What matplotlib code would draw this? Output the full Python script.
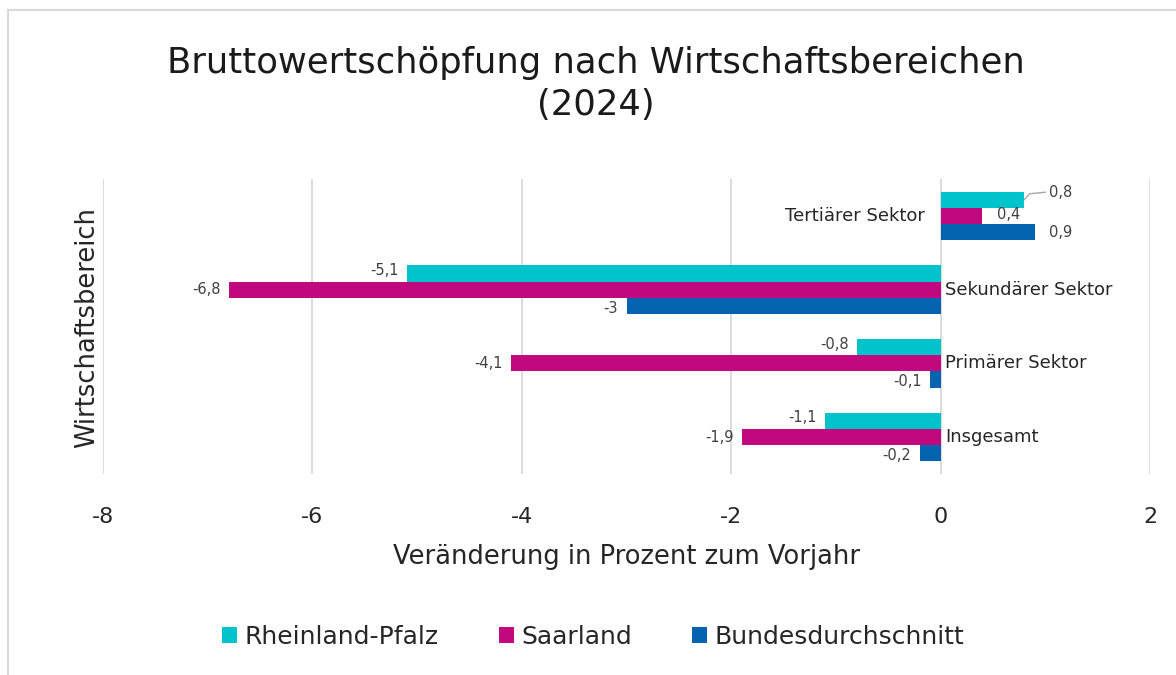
import matplotlib
matplotlib.use("Agg")
import matplotlib.pyplot as plt
from matplotlib.lines import Line2D
from matplotlib.patches import Patch
import numpy as np

categories = ["Insgesamt", "Primärer Sektor", "Sekundärer Sektor", "Tertiärer Sektor"]
series_names = ["Rheinland-Pfalz", "Saarland", "Bundesdurchschnitt"]
rlp = [-1.1, -0.8, -5.1, 0.8]
saar = [-1.9, -4.1, -6.8, 0.4]
bund = [-0.2, -0.1, -3.0, 0.9]
xticks = [-8, -6, -4, -2, 0, 2]

colors = ["#00C3CC", "#C1087F", "#0563B0"]
plt.rcParams['font.family'] = ['DejaVu Sans']

fig = plt.figure(figsize=(11.76, 6.75), dpi=100)
W, H = 1176, 675
ax = fig.add_axes([103 / W, 1 - 474 / H, (1150 - 103) / W, (474 - 179) / H])

y = np.arange(len(categories))
bh = 0.22
offsets = [bh, 0, -bh]
for vals, off, col in zip([rlp, saar, bund], offsets, colors):
    ax.barh(y + off, vals, height=bh, color=col, zorder=3)

ax.set_xlim(-8, 2)
ax.set_ylim(-0.5, 3.5)
ax.set_xticks(xticks)
ax.set_xticklabels([str(t) for t in xticks], fontsize=16, color="#262626")
ax.tick_params(axis='x', length=0, pad=24)
ax.set_yticks([])
for s in ax.spines.values():
    s.set_visible(False)
ax.grid(axis='x', color="#D9D9D9", linewidth=1.3, zorder=0)

def fmt(v):
    return ("%g" % v).replace(".", ",")

lab_kw = dict(fontsize=10.5, color="#404040", zorder=5)
for vals, off in zip([rlp, saar, bund], offsets):
    for yi, v in zip(y, vals):
        yy = yi + off
        if yi == 3:
            continue
        dy = 0.04 if off > 0 else (-0.03 if off < 0 else 0)
        ax.text(v - 0.08, yy + dy, fmt(v), ha='right', va='center', **lab_kw)

# tertiary sector labels (positive values)
ax.text(1.04, 3 + bh + 0.1, fmt(rlp[3]), ha='left', va='center', **lab_kw)
ax.text(saar[3] + 0.14, 3 + 0.02, fmt(saar[3]), ha='left', va='center', **lab_kw)
ax.text(bund[3] + 0.14, 3 - bh, fmt(bund[3]), ha='left', va='center', **lab_kw)
ax.plot([rlp[3], rlp[3] + 0.05, rlp[3] + 0.2], [3 + bh, 3 + bh + 0.08, 3 + bh + 0.1],
        color="#A6A6A6", lw=1, zorder=4)

# category labels
cat_kw = dict(fontsize=13, color="#262626", va='center', zorder=6)
for yi, c in zip(y, categories):
    if c == "Tertiärer Sektor":
        ax.text(-0.15, yi, c, ha='right', **cat_kw)
    else:
        ax.text(0.04, yi, c, ha='left', **cat_kw)

ax.set_xlabel("Veränderung in Prozent zum Vorjahr", fontsize=18.5, color="#262626", labelpad=12)
fig.text(87 / W, 1 - 328 / H, "Wirtschaftsbereich", rotation=90, fontsize=18.5,
         color="#262626", ha='center', va='center')

fig.text(596 / W, 1 - 84 / H, "Bruttowertschöpfung nach Wirtschaftsbereichen\n(2024)",
         fontsize=25.5, color="#1a1a1a", ha='center', va='center', linespacing=1.3)

handles = [Patch(facecolor=c, edgecolor='none') for c in colors]
fig.legend(handles, series_names, loc='center', bbox_to_anchor=(593 / W, 1 - 637 / H),
           ncol=3, frameon=False, fontsize=18, handlelength=0.6, handleheight=0.6,
           handletextpad=0.3, columnspacing=2.4, labelcolor="#262626")

# outer border
fig.add_artist(Line2D([8 / W, 8 / W], [0, 1 - 10 / H], color="#D9D9D9", lw=1.5,
                      transform=fig.transFigure))
fig.add_artist(Line2D([8 / W, 1], [1 - 10 / H, 1 - 10 / H], color="#D9D9D9", lw=1.5,
                      transform=fig.transFigure))

fig.savefig("out.png", dpi=100, facecolor="white")
